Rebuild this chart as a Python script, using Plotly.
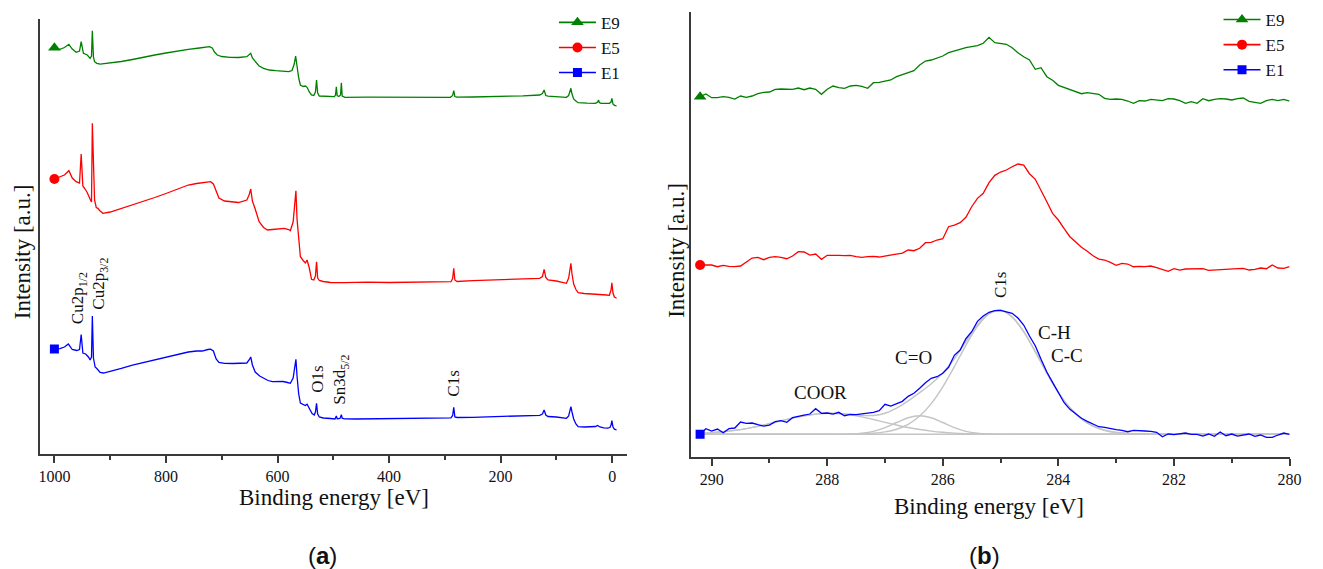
import plotly.graph_objects as go

# ---------------- Panel (a): XPS survey spectra ----------------
survey_E1_be = [1000, 990, 982, 975, 968, 960, 955, 952, 949, 944, 939, 936, 933.5, 932, 930, 927, 924, 921,
                918, 912, 900, 880, 860, 840, 820, 800, 780, 760, 745, 735, 725, 720, 715, 710, 705, 695, 680,
                665, 655, 651, 648, 645, 640, 632, 625, 617, 609, 600, 590, 582, 577, 572, 569, 567, 565, 562,
                559, 555, 550, 547, 543, 538, 534, 532, 530, 528, 525, 518, 505, 497, 494.5, 493, 488, 485.5,
                484, 480, 460, 420, 380, 340, 300, 289, 286, 284, 282, 278, 250, 200, 160, 130, 125, 122, 119,
                115, 100, 88, 82, 78, 76, 74, 72, 69, 65, 61, 50, 40, 30, 26, 22, 15, 8, 4, 2, 0.5, -1.5, -4, -8]
survey_E1_int = [105.0, 105.3, 107.0, 110.0, 104.5, 103.5, 104.5, 119.5, 101.0, 100.0, 97.0, 94.0, 97.0, 138.0,
                 96.0, 87.0, 85.5, 84.0, 81.5, 81.0, 82.5, 85.7, 89.0, 91.5, 94.0, 97.0, 99.5, 102.0, 103.0,
                 103.0, 104.5, 104.8, 103.0, 95.0, 91.5, 90.7, 90.5, 90.5, 91.0, 94.0, 97.0, 89.0, 82.0, 78.0,
                 75.7, 73.5, 72.3, 72.5, 72.5, 71.5, 70.7, 76.0, 90.0, 94.7, 78.0, 60.0, 51.0, 49.5, 48.5, 49.7,
                 45.0, 40.5, 39.0, 42.0, 50.7, 40.0, 37.0, 36.0, 35.5, 35.0, 38.0, 35.2, 35.5, 39.3, 35.8, 35.2,
                 35.0, 35.2, 35.0, 35.5, 36.0, 36.2, 38.5, 46.7, 37.0, 36.5, 36.7, 37.3, 38.0, 38.7, 40.0, 44.0,
                 39.0, 37.5, 37.0, 36.2, 35.7, 38.0, 44.0, 47.3, 42.0, 35.0, 30.0, 27.3, 27.0, 27.2, 27.5, 28.5,
                 27.0, 26.2, 25.8, 26.5, 29.0, 33.3, 27.0, 24.8, 24.0]

survey_E5_be = [1000, 990, 982, 974, 968, 961, 955, 952, 949, 945, 941, 936, 933.5, 932, 928, 925, 922, 919, 913,
                900, 880, 860, 840, 820, 800, 780, 760, 745, 735, 725, 720, 715, 710, 705, 695, 685, 670, 655,
                651, 648, 645, 640, 633, 625, 618, 609, 600, 588, 580, 577, 572, 569, 567, 565, 562, 559, 554,
                550, 547, 543, 539, 535, 532, 530, 528, 525, 518, 505, 480, 440, 400, 360, 320, 289, 286, 284,
                282, 278, 250, 200, 160, 130, 125, 122, 119, 115, 100, 88, 82, 78, 76, 74, 72, 69, 65, 61, 50,
                40, 27, 20, 10, 5, 2, 0.5, -1.5, -4, -8]
survey_E5_int = [275.0, 277.3, 279.0, 283.3, 276.0, 272.3, 271.0, 300.0, 268.0, 265.0, 261.3, 254.7, 252.0, 330.7,
                 254.0, 246.5, 245.7, 243.5, 240.7, 242.0, 245.5, 249.0, 252.5, 256.5, 260.5, 264.5, 269.0, 270.5,
                 271.0, 272.0, 272.3, 270.0, 262.0, 256.0, 253.0, 252.3, 251.5, 254.0, 259.0, 265.0, 253.0, 245.0,
                 232.3, 226.5, 224.0, 224.5, 225.0, 225.7, 224.5, 223.3, 232.0, 255.0, 263.3, 235.0, 212.0, 197.3,
                 193.5, 191.0, 194.0, 186.0, 174.7, 174.0, 178.0, 192.3, 176.0, 173.5, 172.5, 171.5, 171.3, 171.8,
                 171.5, 172.0, 172.3, 172.3, 175.5, 185.7, 174.0, 172.5, 173.3, 174.0, 175.0, 175.7, 177.5, 184.7,
                 176.5, 174.0, 173.0, 171.5, 170.7, 176.0, 186.0, 190.7, 180.0, 170.0, 164.5, 161.3, 160.5, 160.3,
                 160.0, 159.5, 159.0, 158.7, 164.0, 171.3, 161.0, 157.0, 155.7]

survey_E9_be = [1000, 990, 982, 974, 968, 961, 955, 952, 948, 941, 936, 933.5, 932, 930, 928, 924, 918, 909, 880,
                860, 840, 820, 800, 780, 760, 740, 722, 717, 713, 708, 700, 685, 670, 655, 651, 648, 645, 640, 633,
                625, 615, 603, 590, 580, 574, 570, 567.5, 565, 562, 559, 554, 550, 547, 543, 539, 535, 532, 530,
                528, 525, 510, 498, 496, 494.5, 493, 490, 487, 485.5, 484, 479, 440, 400, 360, 320, 290, 286, 284,
                282, 278, 250, 200, 160, 130, 125, 122, 119, 115, 100, 88, 82, 78, 76, 74, 72, 69, 65, 61, 45, 30,
                26, 24.5, 23, 20, 10, 5, 2, 0.5, -1.5, -4, -8]
survey_E9_int = [406.3, 404.7, 406.5, 409.7, 405.0, 401.7, 403.0, 412.3, 400.7, 399.0, 395.7, 398.0, 423.3, 397.0,
                 392.3, 390.7, 389.8, 390.3, 392.5, 394.5, 397.0, 399.0, 401.0, 403.0, 404.7, 406.0, 407.3, 406.0,
                 402.0, 399.0, 397.5, 396.7, 396.5, 397.3, 399.0, 400.7, 396.0, 392.3, 388.0, 385.7, 384.0, 383.3,
                 383.0, 382.3, 383.5, 390.0, 398.0, 385.0, 376.0, 369.0, 367.5, 368.0, 366.7, 362.0, 359.0, 358.5,
                 362.0, 374.0, 361.0, 358.0, 357.5, 357.3, 359.0, 367.3, 358.5, 357.5, 359.0, 371.3, 358.0, 356.7,
                 356.8, 356.7, 356.8, 356.7, 356.7, 358.5, 363.3, 357.5, 356.8, 357.0, 357.5, 358.2, 359.0, 360.5,
                 364.0, 358.5, 357.8, 357.3, 356.8, 356.7, 358.5, 362.0, 365.7, 360.0, 355.0, 353.0, 351.3, 350.8,
                 350.7, 352.0, 354.0, 351.5, 350.7, 350.7, 350.7, 352.0, 355.7, 350.0, 348.7, 348.0]

# ---------------- Panel (b): C 1s high-resolution spectra ----------------
c1s_be = [290.2, 290.1, 290.0, 289.9, 289.8, 289.7, 289.6, 289.5, 289.4, 289.3,
          289.2, 289.1, 289.0, 288.9, 288.8, 288.7, 288.6, 288.5, 288.4, 288.3,
          288.2, 288.1, 288.0, 287.9, 287.8, 287.7, 287.6, 287.5, 287.4, 287.3,
          287.2, 287.1, 287.0, 286.9, 286.8, 286.7, 286.6, 286.5, 286.4, 286.3,
          286.2, 286.1, 286.0, 285.9, 285.8, 285.7, 285.6, 285.5, 285.4, 285.3,
          285.2, 285.1, 285.0, 284.9, 284.8, 284.7, 284.6, 284.5, 284.4, 284.3,
          284.2, 284.1, 284.0, 283.9, 283.8, 283.7, 283.6, 283.5, 283.4, 283.3,
          283.2, 283.1, 283.0, 282.9, 282.8, 282.7, 282.6, 282.5, 282.4, 282.3,
          282.2, 282.1, 282.0, 281.9, 281.8, 281.7, 281.6, 281.5, 281.4, 281.3,
          281.2, 281.1, 281.0, 280.9, 280.8, 280.7, 280.6, 280.5, 280.4, 280.3,
          280.2, 280.1, 280.0]
c1s_E9 = [360.3, 363.0, 359.3, 359.3, 360.3, 359.7, 358.0, 361.0, 359.7, 361.0,
          363.3, 364.7, 365.0, 367.7, 368.0, 367.7, 367.7, 369.0, 367.3, 369.0,
          367.7, 362.7, 367.7, 371.0, 369.3, 368.7, 371.0, 371.7, 370.7, 368.7,
          374.3, 374.7, 375.7, 377.0, 380.3, 382.3, 383.7, 386.3, 392.0, 396.0,
          397.0, 398.7, 401.0, 404.3, 406.0, 407.7, 409.3, 410.3, 411.3, 413.7,
          419.7, 414.3, 413.3, 412.7, 409.3, 404.3, 400.3, 397.0, 387.7, 389.3,
          380.3, 376.7, 371.7, 369.7, 367.0, 365.0, 363.3, 364.3, 363.3, 362.7,
          358.7, 357.7, 358.0, 357.7, 356.0, 353.7, 356.3, 356.0, 357.7, 357.0,
          356.3, 358.3, 358.0, 356.3, 353.7, 355.3, 353.7, 358.3, 356.3, 357.7,
          358.3, 358.0, 357.0, 358.3, 359.0, 355.7, 354.7, 353.7, 356.3, 357.7,
          356.3, 357.7, 356.0]
c1s_E5 = [192.0, 191.7, 192.0, 190.3, 191.7, 190.7, 190.3, 191.0, 195.0, 199.0,
          199.7, 197.3, 199.7, 200.3, 199.7, 198.3, 201.0, 205.3, 205.0, 202.0,
          203.0, 197.7, 201.7, 202.0, 201.7, 201.3, 201.7, 200.3, 199.7, 200.3,
          200.7, 200.0, 201.0, 202.0, 203.0, 204.0, 207.0, 206.3, 208.7, 214.3,
          214.7, 217.0, 218.3, 230.3, 232.0, 234.3, 239.7, 250.3, 258.7, 263.7,
          274.3, 281.7, 285.0, 287.0, 290.3, 293.0, 292.0, 283.3, 277.7, 267.0,
          255.3, 243.7, 237.0, 228.3, 220.3, 215.0, 209.7, 205.7, 201.3, 198.0,
          197.0, 194.7, 191.7, 193.7, 193.0, 190.3, 190.7, 190.3, 191.0, 189.3,
          187.3, 185.7, 188.3, 187.0, 188.0, 188.0, 188.7, 188.3, 186.7, 187.0,
          187.3, 187.7, 187.3, 188.3, 188.7, 187.0, 187.7, 189.0, 188.3, 192.0,
          189.0, 188.7, 190.3]
c1s_E1 = [22.7, 28.3, 26.0, 28.0, 24.3, 28.3, 29.0, 35.0, 33.7, 34.0,
          32.3, 31.0, 32.0, 35.3, 36.3, 34.7, 39.3, 41.0, 42.0, 43.0,
          48.3, 43.7, 44.0, 43.0, 44.7, 41.3, 42.7, 42.3, 43.0, 43.7,
          44.7, 46.3, 52.7, 51.0, 53.7, 55.7, 60.7, 63.7, 68.7, 74.3,
          78.7, 80.3, 83.7, 89.7, 101.7, 107.0, 118.3, 125.3, 135.7, 141.0,
          144.7, 146.3, 146.7, 145.3, 143.7, 139.0, 132.0, 121.0, 111.3, 97.7,
          85.0, 74.7, 64.7, 54.3, 47.7, 43.0, 38.7, 35.7, 33.3, 30.3,
          29.7, 28.3, 27.3, 26.7, 25.3, 26.7, 26.7, 26.0, 25.7, 24.7,
          20.3, 23.0, 22.3, 23.0, 24.0, 22.7, 22.7, 21.0, 23.0, 20.7,
          25.0, 21.3, 23.0, 21.0, 22.0, 23.0, 20.7, 22.0, 19.7, 19.7,
          22.0, 24.0, 22.7]

# Peak-fit components of the E1 C 1s envelope (heights above the background)
fit_be = [290.2, 290.0, 289.8, 289.6, 289.4, 289.2, 289.0, 288.8, 288.6, 288.4, 288.2, 288.0, 287.8,
          287.6, 287.4, 287.2, 287.0, 286.8, 286.6, 286.4, 286.2, 286.0, 285.8, 285.6, 285.4, 285.2,
          285.0, 284.8, 284.6, 284.4, 284.2, 284.0, 283.8, 283.6, 283.4, 283.2, 283.0, 282.8, 282.6,
          282.4, 282.2, 282.0, 281.8, 281.6, 281.4, 281.2, 281.0, 280.8, 280.6, 280.4, 280.2, 280.0]
fit_background = 22.7
fit_coor = [0.9, 1.6, 2.5, 3.9, 5.7, 8.0, 10.6, 13.4, 16.2, 18.5, 20.2, 21.0, 20.7,
            19.5, 17.4, 14.8, 12.0, 9.3, 6.8, 4.8, 3.2, 2.0, 1.2, 0.7, 0.4, 0.2,
            0.1, 0.0, 0.0, 0.0, 0.0, 0.0, 0.0, 0.0, 0.0, 0.0, 0.0, 0.0, 0.0,
            0.0, 0.0, 0.0, 0.0, 0.0, 0.0, 0.0, 0.0, 0.0, 0.0, 0.0, 0.0, 0.0]
fit_co = [0.0, 0.0, 0.0, 0.0, 0.0, 0.0, 0.0, 0.0, 0.0, 0.0, 0.0, 0.0, 0.0,
          0.3, 1.1, 3.0, 6.7, 11.8, 16.6, 18.6, 16.6, 11.8, 6.7, 3.0, 1.1, 0.3,
          0.0, 0.0, 0.0, 0.0, 0.0, 0.0, 0.0, 0.0, 0.0, 0.0, 0.0, 0.0, 0.0,
          0.0, 0.0, 0.0, 0.0, 0.0, 0.0, 0.0, 0.0, 0.0, 0.0, 0.0, 0.0, 0.0]
fit_cc = [0.0, 0.0, 0.0, 0.0, 0.0, 0.0, 0.0, 0.0, 0.0, 0.0, 0.0, 0.0, 0.0,
          0.1, 0.4, 1.0, 2.4, 5.1, 10.0, 18.3, 30.7, 47.5, 67.7, 89.0, 107.9, 120.4,
          124.0, 117.4, 102.7, 82.7, 61.4, 42.0, 26.5, 15.4, 8.2, 4.1, 1.9, 0.8, 0.3,
          0.1, 0.0, 0.0, 0.0, 0.0, 0.0, 0.0, 0.0, 0.0, 0.0, 0.0, 0.0, 0.0]

series = ["E9", "E5", "E1"]
colors = {"E9": "#008000", "E5": "#ff0000", "E1": "#0000ff"}
symbols = {"E9": "triangle-up", "E5": "circle", "E1": "square"}
msize = {"E9": 11, "E5": 10, "E1": 9}

survey = {"E9": (survey_E9_be, survey_E9_int),
          "E5": (survey_E5_be, survey_E5_int),
          "E1": (survey_E1_be, survey_E1_int)}
c1s = {"E9": c1s_E9, "E5": c1s_E5, "E1": c1s_E1}

SERIF = "Liberation Serif, Times New Roman, serif"
AXIS_COLOR = "#3a3a3a"
GRAY = "#c4c4c4"

fig = go.Figure()

# fitted components (drawn first so the measured E1 curve sits on top)
bg = [fit_background] * len(fit_be)
envelope = [fit_background + a + b + c for a, b, c in zip(fit_coor, fit_co, fit_cc)]
for comp in (fit_coor, fit_co, fit_cc):
    fig.add_trace(go.Scatter(x=fit_be, y=[fit_background + v for v in comp], mode="lines",
                             line=dict(color=GRAY, width=1.4, shape="spline"),
                             xaxis="x2", yaxis="y2", showlegend=False, hoverinfo="skip"))
fig.add_trace(go.Scatter(x=fit_be, y=bg, mode="lines", line=dict(color=GRAY, width=1.4),
                         xaxis="x2", yaxis="y2", showlegend=False, hoverinfo="skip"))
fig.add_trace(go.Scatter(x=fit_be, y=envelope, mode="lines",
                         line=dict(color=GRAY, width=1.4, shape="spline"),
                         xaxis="x2", yaxis="y2", showlegend=False, hoverinfo="skip"))

for s in series:
    be, it = survey[s]
    fig.add_trace(go.Scatter(x=be, y=it, mode="lines", line=dict(color=colors[s], width=1.3),
                             xaxis="x", yaxis="y", showlegend=False))
    fig.add_trace(go.Scatter(x=[be[0]], y=[it[0]], mode="markers",
                             marker=dict(symbol=symbols[s], size=msize[s], color=colors[s]),
                             xaxis="x", yaxis="y", showlegend=False))
    fig.add_trace(go.Scatter(x=c1s_be, y=c1s[s], mode="lines", line=dict(color=colors[s], width=1.3),
                             xaxis="x2", yaxis="y2", showlegend=False))
    fig.add_trace(go.Scatter(x=[c1s_be[0]], y=[c1s[s][0]], mode="markers",
                             marker=dict(symbol=symbols[s], size=msize[s], color=colors[s]),
                             xaxis="x2", yaxis="y2", showlegend=False))

# legend entries for both panels
for leg, xa, ya in (("legend", "x", "y"), ("legend2", "x2", "y2")):
    for s in series:
        fig.add_trace(go.Scatter(x=[None], y=[None], mode="lines+markers", name=s,
                                 line=dict(color=colors[s], width=1.6),
                                 marker=dict(symbol=symbols[s], size=msize[s], color=colors[s]),
                                 xaxis=xa, yaxis=ya, legend=leg, showlegend=True))

xcommon = dict(showline=True, linecolor=AXIS_COLOR, linewidth=1.6, ticks="outside", ticklen=7,
               tickwidth=1.5, tickcolor=AXIS_COLOR, showgrid=False, zeroline=False,
               tickfont=dict(family=SERIF, size=16, color="#111111"), tickmode="linear", tick0=0)
ycommon = dict(showline=True, linecolor=AXIS_COLOR, linewidth=1.6, ticks="", showticklabels=False,
               showgrid=False, zeroline=False)

legend_style = dict(xanchor="left", yanchor="top", bgcolor="rgba(0,0,0,0)", itemwidth=37,
                    font=dict(family=SERIF, size=17, color="#111111"), tracegroupgap=0)

fig.update_layout(
    width=1323, height=569,
    margin=dict(l=0, r=0, t=0, b=0),
    paper_bgcolor="white", plot_bgcolor="white",
    font=dict(family=SERIF),
    xaxis=dict(domain=[0.0297, 0.4782], anchor="y", range=[1026, -27.4], dtick=200,
               minor=dict(ticks="outside", ticklen=4, tickwidth=1.5, tickcolor=AXIS_COLOR, dtick=100, tick0=0),
               **xcommon),
    yaxis=dict(domain=[0.2021, 0.9666], anchor="x", range=[0, 435], **ycommon),
    xaxis2=dict(domain=[0.5266, 0.9836], anchor="y2", range=[290.36, 280.0], dtick=2,
                minor=dict(ticks="outside", ticklen=4, tickwidth=1.5, tickcolor=AXIS_COLOR, dtick=1, tick0=0),
                **xcommon),
    yaxis2=dict(domain=[0.1968, 0.9789], anchor="x2", range=[0, 445], **ycommon),
    legend=dict(x=0.4221, y=0.9916, **legend_style),
    legend2=dict(x=0.9294, y=0.9965, **legend_style),
)

ann = []
font_rot = dict(family=SERIF, size=17, color="#111111")
font_lab = dict(family=SERIF, size=19, color="#111111")
# peak labels, survey panel
for text, x, y in (("Cu2p<sub>1/2</sub>", 955.6, 128), ("Cu2p<sub>3/2</sub>", 918.3, 142.3),
                   ("O1s", 528.8, 59), ("Sn3d<sub>5/2</sub>", 486.1, 47.3), ("C1s", 284.7, 55.7)):
    ann.append(dict(text=text, x=x, y=y, xref="x", yref="y", textangle=-90, showarrow=False,
                    xanchor="center", yanchor="bottom", font=font_rot))
# peak labels, C 1s panel
ann.append(dict(text="C1s", x=285.01, y=157, xref="x2", yref="y2", textangle=-90, showarrow=False,
                xanchor="center", yanchor="bottom", font=font_rot))
for text, x, y in (("C-H", 284.07, 124.3), ("C-C", 283.85, 101.7), ("C=O", 286.51, 99.7), ("COOR", 288.11, 64.3)):
    ann.append(dict(text=text, x=x, y=y, xref="x2", yref="y2", showarrow=False,
                    xanchor="center", yanchor="middle", font=font_lab))
# axis titles and panel letters
title_font = dict(family=SERIF, size=23, color="#111111")
letter_font = dict(family="Liberation Sans", size=24, color="#111111")
ann += [
    dict(text="Binding energy [eV]", x=335.8 / 1323, y=1 - 497.5 / 569, xref="paper", yref="paper",
         showarrow=False, xanchor="center", yanchor="middle", font=title_font),
    dict(text="Binding energy [eV]", x=998 / 1323, y=1 - 506.7 / 569, xref="paper", yref="paper",
         showarrow=False, xanchor="center", yanchor="middle", font=title_font),
    dict(text="Intensity [a.u.]", x=22 / 1323, y=1 - 251.5 / 569, xref="paper", yref="paper", textangle=-90,
         showarrow=False, xanchor="center", yanchor="middle", font=title_font),
    dict(text="Intensity [a.u.]", x=682 / 1323, y=1 - 250.5 / 569, xref="paper", yref="paper", textangle=-90,
         showarrow=False, xanchor="center", yanchor="middle", font=title_font),
    dict(text="(<b>a</b>)", x=325 / 1323, y=1 - 555 / 569, xref="paper", yref="paper",
         showarrow=False, xanchor="center", yanchor="middle", font=letter_font),
    dict(text="(<b>b</b>)", x=993.5 / 1323, y=1 - 555 / 569, xref="paper", yref="paper",
         showarrow=False, xanchor="center", yanchor="middle", font=letter_font),
]
fig.update_layout(annotations=ann)

fig.write_html("out.html")
